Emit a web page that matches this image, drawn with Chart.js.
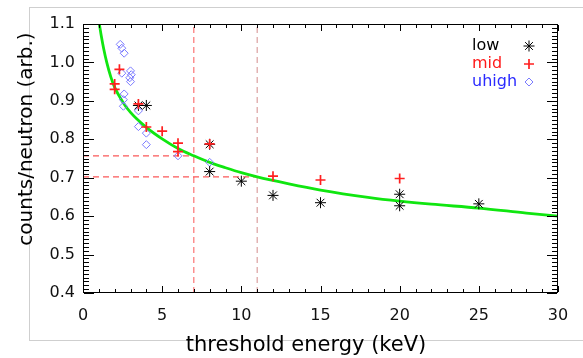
<!DOCTYPE html>
<html><head><meta charset="utf-8">
<script src="https://cdn.jsdelivr.net/npm/chart.js@4.4.1/dist/chart.umd.min.js"></script>
<style>
html,body{margin:0;padding:0;background:#fff;}
#wrap{position:relative;width:583px;height:358px;overflow:hidden;background:#fff;}
#frame{position:absolute;left:29px;top:7px;width:600px;height:332px;border-top:1px solid #cfcfcf;border-left:1px solid #cfcfcf;border-bottom:1px solid #cfcfcf;}
canvas{position:absolute;left:0;top:0;}
</style></head><body>
<div id="wrap"><div id="frame"></div><canvas id="c" width="583" height="358"></canvas></div>
<script>
// ---- data ----
const xTicks = [0, 5, 10, 15, 20, 25, 30];
const yTicks = [0.4, 0.5, 0.6, 0.7, 0.8, 0.9, 1.0, 1.1];
const seriesNames = ['low', 'mid', 'uhigh'];

const lowX = [3.5, 4.0, 8.0, 8.0, 10.0, 12.0, 15.0, 20.0, 20.0, 25.0];
const lowY = [0.888, 0.888, 0.787, 0.716, 0.691, 0.654, 0.635, 0.657, 0.627, 0.632];

const midX = [2.0, 2.0, 2.3, 3.5, 4.0, 5.0, 6.0, 6.0, 8.0, 12.0, 15.0, 20.0];
const midY = [0.944, 0.930, 0.982, 0.892, 0.832, 0.821, 0.790, 0.768, 0.788, 0.704, 0.694, 0.698];

const uhighX = [2.35, 2.45, 2.6, 2.45, 3.0, 3.05, 2.95, 3.0, 2.6, 2.55, 2.55, 3.5, 3.5, 4.0, 4.0, 6.0, 8.0];
const uhighY = [1.047, 1.037, 1.024, 0.972, 0.978, 0.968, 0.960, 0.950, 0.918, 0.903, 0.886, 0.874, 0.833, 0.816, 0.786, 0.757, 0.740];

const fitX = [1.03, 1.15, 1.3, 1.5, 1.75, 2.0, 2.5, 3.0, 4, 5, 6, 7, 8, 9, 10, 11, 13, 15, 18, 20, 22, 25, 28, 30];
const fitY = [1.100, 1.070, 1.037, 1.000, 0.963, 0.935, 0.898, 0.870, 0.831, 0.801, 0.776, 0.757, 0.740, 0.726, 0.713, 0.702, 0.684, 0.668, 0.649, 0.639, 0.631, 0.621, 0.608, 0.600];

// threshold markers: energies and the fit value at each
const cutX = [7, 11];
const cutY = [0.757, 0.702];

const xTitle = 'threshold energy (keV)';
const yTitle = 'counts/neutron (arb.)';

// ---- build ----
const pts = (xs, ys) => xs.map((v, i) => ({x: v, y: ys[i]}));
const X0 = xTicks[0], X1 = xTicks[xTicks.length - 1];
const Y0 = yTicks[0], Y1 = yTicks[yTicks.length - 1];
const dashColors = ['rgba(250,70,70,0.9)', 'rgba(205,120,120,0.85)'];

const datasets = [
  {label: seriesNames[0], data: pts(lowX, lowY), pointStyle: 'star', pointRadius: 5.5, borderColor: '#000', backgroundColor: '#000', pointBorderWidth: 1, showLine: false, order: 1, textColor: '#000'},
  {label: seriesNames[1], data: pts(midX, midY), pointStyle: 'cross', pointRadius: 5, borderColor: '#ff2020', backgroundColor: '#ff2020', pointBorderWidth: 1.7, showLine: false, order: 0, textColor: '#ff1a1a'},
  {label: seriesNames[2], data: pts(uhighX, uhighY), pointStyle: 'rectRot', pointRadius: 4, borderColor: '#7b7bff', backgroundColor: 'rgba(0,0,0,0)', pointBorderWidth: 1, showLine: false, order: 2, textColor: '#2a2aff'},
  {label: 'fit', data: pts(fitX, fitY), showLine: true, borderColor: '#10e610', borderWidth: 2.8, pointRadius: 0, cubicInterpolationMode: 'monotone', order: 3, fill: false, isAux: true}
];
cutX.forEach((cx, i) => {
  datasets.push({label: 'v' + i, data: [{x: cx, y: Y0}, {x: cx, y: Y1}], showLine: true, borderColor: dashColors[i], borderWidth: 1, borderDash: [6, 4], pointRadius: 0, order: 5, isAux: true});
  datasets.push({label: 'h' + i, data: [{x: X0, y: cutY[i]}, {x: cx, y: cutY[i]}], showLine: true, borderColor: dashColors[0], borderWidth: 1.3, borderDash: [6, 4], pointRadius: 0, order: 5, isAux: true});
});

const FONT = "'DejaVu Sans', sans-serif";

const boxPlugin = {
  id: 'boxPlugin',
  afterDatasetsDraw(chart) {
    const {ctx, chartArea: a, scales: {x, y}} = chart;
    ctx.save();
    ctx.fillStyle = '#000';
    const L = Math.round(a.left), R = Math.round(a.right) - 1, T = Math.round(a.top), B = Math.round(a.bottom) - 1;
    // frame
    ctx.fillRect(L, T, R - L + 1, 1);
    ctx.fillRect(L, B, R - L + 1, 1);
    ctx.fillRect(L, T, 1, B - T + 1);
    ctx.fillRect(R, T, 1, B - T + 1);
    // x ticks: minor every 1, major at labelled ticks
    for (let v = X0; v <= X1 + 1e-9; v += 1) {
      const px = Math.round(x.getPixelForValue(v));
      const len = xTicks.some(t => Math.abs(t - v) < 1e-9) ? 6 : 3;
      ctx.fillRect(px, B - len, 1, len);
      ctx.fillRect(px, T + 1, 1, len);
    }
    const n = Math.round((Y1 - Y0) / 0.01);
    for (let i = 0; i <= n; i++) {
      const v = Y0 + i * 0.01;
      const py = Math.round(y.getPixelForValue(v));
      const len = (i % 10 === 0) ? 10 : 5;
      ctx.fillRect(L + 1, py, len, 1);
      ctx.fillRect(R - len, py, len, 1);
    }
    ctx.restore();
  },
  afterDraw(chart) {
    const {ctx} = chart;
    ctx.save();
    // axis titles
    ctx.fillStyle = '#000';
    ctx.textAlign = 'center';
    ctx.textBaseline = 'middle';
    ctx.font = '21px ' + FONT;
    ctx.fillText(xTitle, 306, 346);
    ctx.font = '20px ' + FONT;
    ctx.translate(27, 139);
    ctx.rotate(-Math.PI / 2);
    ctx.fillText(yTitle, 0, 0);
    ctx.restore();
    // legend: text then symbol
    ctx.save();
    ctx.font = '16px ' + FONT;
    ctx.textAlign = 'left';
    ctx.textBaseline = 'middle';
    chart.data.datasets.filter(d => !d.isAux).forEach((d, i) => {
      const ty = 46 + i * 18;
      ctx.fillStyle = d.textColor;
      ctx.fillText(d.label, 472, ty);
      ctx.strokeStyle = d.borderColor;
      ctx.fillStyle = d.backgroundColor;
      ctx.lineWidth = d.pointBorderWidth;
      Chart.helpers.drawPoint(ctx, {pointStyle: d.pointStyle, radius: d.pointRadius, borderWidth: d.pointBorderWidth, rotation: 0}, 529, ty);
    });
    ctx.restore();
  }
};

new Chart(document.getElementById('c'), {
  type: 'scatter',
  data: {datasets},
  options: {
    responsive: false,
    animation: false,
    layout: {padding: {left: 0, right: 25, top: 24, bottom: 0}},
    plugins: {legend: {display: false}, tooltip: {enabled: false}},
    scales: {
      x: {
        type: 'linear', min: X0, max: X1,
        afterBuildTicks: s => { s.ticks = xTicks.map(v => ({value: v})); },
        afterFit: s => { s.height = 65; },
        ticks: {font: {family: FONT, size: 16}, color: '#111', padding: 13, maxRotation: 0, callback: v => String(v)},
        grid: {display: false, drawTicks: false},
        border: {display: false}
      },
      y: {
        type: 'linear', min: Y0, max: Y1,
        afterBuildTicks: s => { s.ticks = yTicks.map(v => ({value: v})); },
        afterFit: s => { s.width = 83; },
        ticks: {font: {family: FONT, size: 16}, color: '#111', padding: 8, callback: v => Number(v).toFixed(1)},
        grid: {display: false, drawTicks: false},
        border: {display: false}
      }
    }
  },
  plugins: [boxPlugin]
});
</script>
</body></html>
